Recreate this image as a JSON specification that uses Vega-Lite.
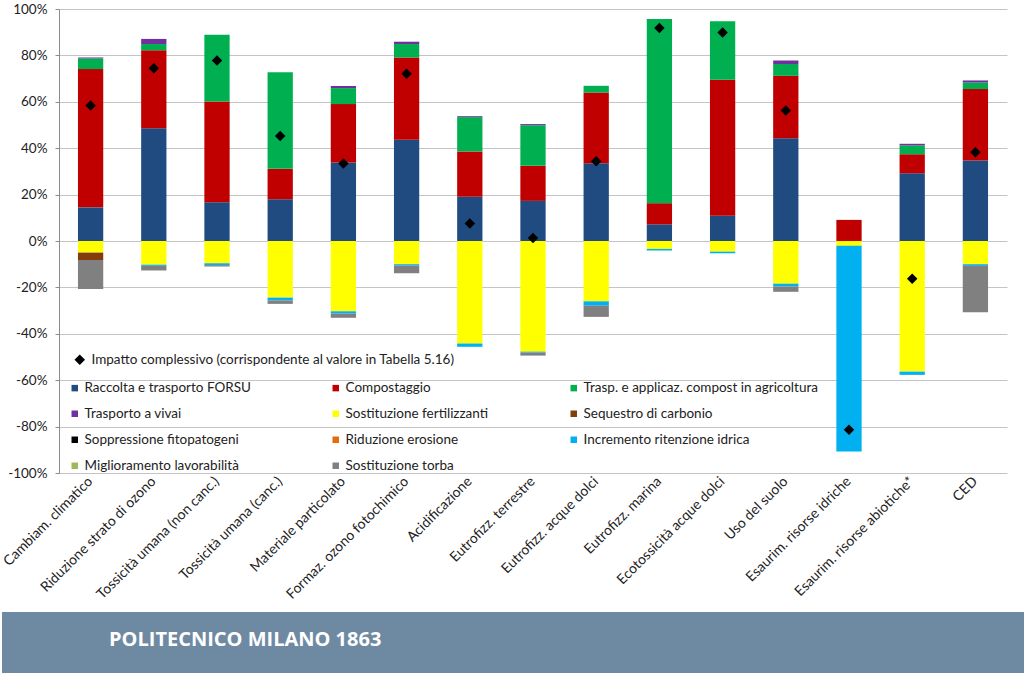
{
  "$schema": "https://vega.github.io/schema/vega-lite/v6.json",
  "padding": {"left": 0, "right": 0, "top": 2, "bottom": 0},
  "background": "white",
  "config": {"font": "Lato", "view": {"stroke": null}},
  "columns": 1,
  "align": "none",
  "spacing": 10,
  "datasets": {
    "voci": [
      {"voce": "Raccolta e trasporto FORSU", "ordine": 1},
      {"voce": "Compostaggio", "ordine": 2},
      {"voce": "Trasp. e applicaz. compost in agricoltura", "ordine": 3},
      {"voce": "Trasporto a vivai", "ordine": 4},
      {"voce": "Sostituzione fertilizzanti", "ordine": 5},
      {"voce": "Sequestro di carbonio", "ordine": 6},
      {"voce": "Soppressione fitopatogeni", "ordine": 7},
      {"voce": "Riduzione erosione", "ordine": 8},
      {"voce": "Incremento ritenzione idrica", "ordine": 9},
      {"voce": "Miglioramento lavorabilità", "ordine": 10},
      {"voce": "Sostituzione torba", "ordine": 11}
    ],
    "parti": [
      {"categoria": "Cambiam. climatico", "voce": "Raccolta e trasporto FORSU", "valore": 14.5},
      {"categoria": "Cambiam. climatico", "voce": "Compostaggio", "valore": 59.6},
      {"categoria": "Cambiam. climatico", "voce": "Trasp. e applicaz. compost in agricoltura", "valore": 4.6},
      {"categoria": "Cambiam. climatico", "voce": "Trasporto a vivai", "valore": 0.4},
      {"categoria": "Cambiam. climatico", "voce": "Sostituzione fertilizzanti", "valore": -5.0},
      {"categoria": "Cambiam. climatico", "voce": "Sequestro di carbonio", "valore": -3.2},
      {"categoria": "Cambiam. climatico", "voce": "Sostituzione torba", "valore": -12.5},

      {"categoria": "Riduzione strato di ozono", "voce": "Raccolta e trasporto FORSU", "valore": 48.6},
      {"categoria": "Riduzione strato di ozono", "voce": "Compostaggio", "valore": 33.6},
      {"categoria": "Riduzione strato di ozono", "voce": "Trasp. e applicaz. compost in agricoltura", "valore": 2.7},
      {"categoria": "Riduzione strato di ozono", "voce": "Trasporto a vivai", "valore": 2.2},
      {"categoria": "Riduzione strato di ozono", "voce": "Sostituzione fertilizzanti", "valore": -10.2},
      {"categoria": "Riduzione strato di ozono", "voce": "Incremento ritenzione idrica", "valore": -0.5},
      {"categoria": "Riduzione strato di ozono", "voce": "Sostituzione torba", "valore": -2.0},

      {"categoria": "Tossicità umana (non canc.)", "voce": "Raccolta e trasporto FORSU", "valore": 16.7},
      {"categoria": "Tossicità umana (non canc.)", "voce": "Compostaggio", "valore": 43.4},
      {"categoria": "Tossicità umana (non canc.)", "voce": "Trasp. e applicaz. compost in agricoltura", "valore": 28.8},
      {"categoria": "Tossicità umana (non canc.)", "voce": "Sostituzione fertilizzanti", "valore": -9.6},
      {"categoria": "Tossicità umana (non canc.)", "voce": "Incremento ritenzione idrica", "valore": -0.8},
      {"categoria": "Tossicità umana (non canc.)", "voce": "Sostituzione torba", "valore": -0.6},

      {"categoria": "Tossicità umana (canc.)", "voce": "Raccolta e trasporto FORSU", "valore": 18.0},
      {"categoria": "Tossicità umana (canc.)", "voce": "Compostaggio", "valore": 13.1},
      {"categoria": "Tossicità umana (canc.)", "voce": "Trasp. e applicaz. compost in agricoltura", "valore": 41.6},
      {"categoria": "Tossicità umana (canc.)", "voce": "Sostituzione fertilizzanti", "valore": -24.4},
      {"categoria": "Tossicità umana (canc.)", "voce": "Incremento ritenzione idrica", "valore": -1.2},
      {"categoria": "Tossicità umana (canc.)", "voce": "Sostituzione torba", "valore": -1.5},

      {"categoria": "Materiale particolato", "voce": "Raccolta e trasporto FORSU", "valore": 33.8},
      {"categoria": "Materiale particolato", "voce": "Compostaggio", "valore": 25.2},
      {"categoria": "Materiale particolato", "voce": "Trasp. e applicaz. compost in agricoltura", "valore": 6.9},
      {"categoria": "Materiale particolato", "voce": "Trasporto a vivai", "valore": 0.9},
      {"categoria": "Materiale particolato", "voce": "Sostituzione fertilizzanti", "valore": -30.3},
      {"categoria": "Materiale particolato", "voce": "Incremento ritenzione idrica", "valore": -1.0},
      {"categoria": "Materiale particolato", "voce": "Sostituzione torba", "valore": -1.8},

      {"categoria": "Formaz. ozono fotochimico", "voce": "Raccolta e trasporto FORSU", "valore": 43.6},
      {"categoria": "Formaz. ozono fotochimico", "voce": "Compostaggio", "valore": 35.5},
      {"categoria": "Formaz. ozono fotochimico", "voce": "Trasp. e applicaz. compost in agricoltura", "valore": 5.8},
      {"categoria": "Formaz. ozono fotochimico", "voce": "Trasporto a vivai", "valore": 1.0},
      {"categoria": "Formaz. ozono fotochimico", "voce": "Sostituzione fertilizzanti", "valore": -10.0},
      {"categoria": "Formaz. ozono fotochimico", "voce": "Incremento ritenzione idrica", "valore": -0.6},
      {"categoria": "Formaz. ozono fotochimico", "voce": "Sostituzione torba", "valore": -3.3},

      {"categoria": "Acidificazione", "voce": "Raccolta e trasporto FORSU", "valore": 19.1},
      {"categoria": "Acidificazione", "voce": "Compostaggio", "valore": 19.5},
      {"categoria": "Acidificazione", "voce": "Trasp. e applicaz. compost in agricoltura", "valore": 14.8},
      {"categoria": "Acidificazione", "voce": "Trasporto a vivai", "valore": 0.4},
      {"categoria": "Acidificazione", "voce": "Sostituzione fertilizzanti", "valore": -44.2},
      {"categoria": "Acidificazione", "voce": "Incremento ritenzione idrica", "valore": -1.4},

      {"categoria": "Eutrofizz. terrestre", "voce": "Raccolta e trasporto FORSU", "valore": 17.3},
      {"categoria": "Eutrofizz. terrestre", "voce": "Compostaggio", "valore": 15.1},
      {"categoria": "Eutrofizz. terrestre", "voce": "Trasp. e applicaz. compost in agricoltura", "valore": 17.5},
      {"categoria": "Eutrofizz. terrestre", "voce": "Trasporto a vivai", "valore": 0.5},
      {"categoria": "Eutrofizz. terrestre", "voce": "Sostituzione fertilizzanti", "valore": -47.7},
      {"categoria": "Eutrofizz. terrestre", "voce": "Incremento ritenzione idrica", "valore": -0.4},
      {"categoria": "Eutrofizz. terrestre", "voce": "Sostituzione torba", "valore": -1.3},

      {"categoria": "Eutrofizz. acque dolci", "voce": "Raccolta e trasporto FORSU", "valore": 33.5},
      {"categoria": "Eutrofizz. acque dolci", "voce": "Compostaggio", "valore": 30.5},
      {"categoria": "Eutrofizz. acque dolci", "voce": "Trasp. e applicaz. compost in agricoltura", "valore": 2.9},
      {"categoria": "Eutrofizz. acque dolci", "voce": "Sostituzione fertilizzanti", "valore": -26.0},
      {"categoria": "Eutrofizz. acque dolci", "voce": "Incremento ritenzione idrica", "valore": -1.9},
      {"categoria": "Eutrofizz. acque dolci", "voce": "Sostituzione torba", "valore": -4.8},

      {"categoria": "Eutrofizz. marina", "voce": "Raccolta e trasporto FORSU", "valore": 7.2},
      {"categoria": "Eutrofizz. marina", "voce": "Compostaggio", "valore": 9.1},
      {"categoria": "Eutrofizz. marina", "voce": "Trasp. e applicaz. compost in agricoltura", "valore": 79.4},
      {"categoria": "Eutrofizz. marina", "voce": "Sostituzione fertilizzanti", "valore": -3.4},
      {"categoria": "Eutrofizz. marina", "voce": "Incremento ritenzione idrica", "valore": -0.7},

      {"categoria": "Ecotossicità acque dolci", "voce": "Raccolta e trasporto FORSU", "valore": 10.9},
      {"categoria": "Ecotossicità acque dolci", "voce": "Compostaggio", "valore": 58.6},
      {"categoria": "Ecotossicità acque dolci", "voce": "Trasp. e applicaz. compost in agricoltura", "valore": 25.2},
      {"categoria": "Ecotossicità acque dolci", "voce": "Sostituzione fertilizzanti", "valore": -4.6},
      {"categoria": "Ecotossicità acque dolci", "voce": "Incremento ritenzione idrica", "valore": -0.7},

      {"categoria": "Uso del suolo", "voce": "Raccolta e trasporto FORSU", "valore": 44.3},
      {"categoria": "Uso del suolo", "voce": "Compostaggio", "valore": 26.9},
      {"categoria": "Uso del suolo", "voce": "Trasp. e applicaz. compost in agricoltura", "valore": 5.1},
      {"categoria": "Uso del suolo", "voce": "Trasporto a vivai", "valore": 1.5},
      {"categoria": "Uso del suolo", "voce": "Sostituzione fertilizzanti", "valore": -18.4},
      {"categoria": "Uso del suolo", "voce": "Incremento ritenzione idrica", "valore": -1.2},
      {"categoria": "Uso del suolo", "voce": "Sostituzione torba", "valore": -2.3},

      {"categoria": "Esaurim. risorse idriche", "voce": "Compostaggio", "valore": 9.1},
      {"categoria": "Esaurim. risorse idriche", "voce": "Sostituzione fertilizzanti", "valore": -2.1},
      {"categoria": "Esaurim. risorse idriche", "voce": "Incremento ritenzione idrica", "valore": -88.6},

      {"categoria": "Esaurim. risorse abiotiche*", "voce": "Raccolta e trasporto FORSU", "valore": 29.2},
      {"categoria": "Esaurim. risorse abiotiche*", "voce": "Compostaggio", "valore": 8.2},
      {"categoria": "Esaurim. risorse abiotiche*", "voce": "Trasp. e applicaz. compost in agricoltura", "valore": 3.8},
      {"categoria": "Esaurim. risorse abiotiche*", "voce": "Trasporto a vivai", "valore": 0.7},
      {"categoria": "Esaurim. risorse abiotiche*", "voce": "Sostituzione fertilizzanti", "valore": -56.3},
      {"categoria": "Esaurim. risorse abiotiche*", "voce": "Incremento ritenzione idrica", "valore": -1.4},

      {"categoria": "CED", "voce": "Raccolta e trasporto FORSU", "valore": 34.7},
      {"categoria": "CED", "voce": "Compostaggio", "valore": 30.8},
      {"categoria": "CED", "voce": "Trasp. e applicaz. compost in agricoltura", "valore": 2.8},
      {"categoria": "CED", "voce": "Trasporto a vivai", "valore": 0.9},
      {"categoria": "CED", "voce": "Sostituzione fertilizzanti", "valore": -10.0},
      {"categoria": "CED", "voce": "Incremento ritenzione idrica", "valore": -0.7},
      {"categoria": "CED", "voce": "Sostituzione torba", "valore": -20.0}
    ],
    "totali": [
      {"categoria": "Cambiam. climatico", "voce": "Impatto complessivo (corrispondente al valore in Tabella 5.16)", "valore": 58.4},
      {"categoria": "Riduzione strato di ozono", "voce": "Impatto complessivo (corrispondente al valore in Tabella 5.16)", "valore": 74.5},
      {"categoria": "Tossicità umana (non canc.)", "voce": "Impatto complessivo (corrispondente al valore in Tabella 5.16)", "valore": 77.8},
      {"categoria": "Tossicità umana (canc.)", "voce": "Impatto complessivo (corrispondente al valore in Tabella 5.16)", "valore": 45.3},
      {"categoria": "Materiale particolato", "voce": "Impatto complessivo (corrispondente al valore in Tabella 5.16)", "valore": 33.4},
      {"categoria": "Formaz. ozono fotochimico", "voce": "Impatto complessivo (corrispondente al valore in Tabella 5.16)", "valore": 72.1},
      {"categoria": "Acidificazione", "voce": "Impatto complessivo (corrispondente al valore in Tabella 5.16)", "valore": 7.5},
      {"categoria": "Eutrofizz. terrestre", "voce": "Impatto complessivo (corrispondente al valore in Tabella 5.16)", "valore": 1.3},
      {"categoria": "Eutrofizz. acque dolci", "voce": "Impatto complessivo (corrispondente al valore in Tabella 5.16)", "valore": 34.4},
      {"categoria": "Eutrofizz. marina", "voce": "Impatto complessivo (corrispondente al valore in Tabella 5.16)", "valore": 91.8},
      {"categoria": "Ecotossicità acque dolci", "voce": "Impatto complessivo (corrispondente al valore in Tabella 5.16)", "valore": 89.9},
      {"categoria": "Uso del suolo", "voce": "Impatto complessivo (corrispondente al valore in Tabella 5.16)", "valore": 56.3},
      {"categoria": "Esaurim. risorse idriche", "voce": "Impatto complessivo (corrispondente al valore in Tabella 5.16)", "valore": -81.4},
      {"categoria": "Esaurim. risorse abiotiche*", "voce": "Impatto complessivo (corrispondente al valore in Tabella 5.16)", "valore": -16.3},
      {"categoria": "CED", "voce": "Impatto complessivo (corrispondente al valore in Tabella 5.16)", "valore": 38.3}
    ]
  },
  "concat": [
    {
      "width": 1024,
      "height": 464,
      "layer": [
        {
          "data": {"name": "parti"},
          "transform": [{"lookup": "voce", "from": {"data": {"name": "voci"}, "key": "voce", "fields": ["ordine"]}}],
          "mark": {"type": "bar"},
          "encoding": {
            "x": {
              "field": "categoria", "type": "nominal",
              "sort": ["Cambiam. climatico", "Riduzione strato di ozono", "Tossicità umana (non canc.)", "Tossicità umana (canc.)", "Materiale particolato", "Formaz. ozono fotochimico", "Acidificazione", "Eutrofizz. terrestre", "Eutrofizz. acque dolci", "Eutrofizz. marina", "Ecotossicità acque dolci", "Uso del suolo", "Esaurim. risorse idriche", "Esaurim. risorse abiotiche*", "CED"],
              "scale": {"paddingInner": 0.6, "paddingOuter": 0.3, "range": [57, 1005]},
              "axis": {"title": null, "labelAngle": -45, "labelAlign": "right", "labelBaseline": "middle", "labelPadding": 6, "domain": false, "ticks": false, "grid": false, "labelFontSize": 14, "labelOverlap": false, "labelLimit": 0, "labelColor": "#222222"}
            },
            "y": {
              "field": "valore", "type": "quantitative", "stack": "zero",
              "scale": {"domain": [-100, 100], "nice": false},
              "axis": {"title": null, "offset": -57, "values": [-100, -80, -60, -40, -20, 0, 20, 40, 60, 80, 100], "labelExpr": "datum.value + '%'", "tickSize": 4, "labelPadding": 8, "domainColor": "#8c8c8c", "tickColor": "#8c8c8c", "gridColor": "#c4c4c4", "labelFontSize": 13.5, "labelColor": "#222222"}
            },
            "order": {"field": "ordine", "type": "quantitative", "sort": "ascending"},
            "color": {
              "field": "voce", "type": "nominal",
              "sort": ["Raccolta e trasporto FORSU", "Compostaggio", "Trasp. e applicaz. compost in agricoltura", "Trasporto a vivai", "Sostituzione fertilizzanti", "Sequestro di carbonio", "Soppressione fitopatogeni", "Riduzione erosione", "Incremento ritenzione idrica", "Miglioramento lavorabilità", "Sostituzione torba"],
              "scale": {
                "domain": ["Raccolta e trasporto FORSU", "Compostaggio", "Trasp. e applicaz. compost in agricoltura", "Trasporto a vivai", "Sostituzione fertilizzanti", "Sequestro di carbonio", "Soppressione fitopatogeni", "Riduzione erosione", "Incremento ritenzione idrica", "Miglioramento lavorabilità", "Sostituzione torba"],
                "range": ["#1f4b80", "#c00000", "#00b050", "#7030a0", "#ffff00", "#843c0c", "#000000", "#e46c0a", "#00b0f0", "#9bbb59", "#808080"]
              },
              "legend": {"title": null, "orient": "none", "legendX": 66, "legendY": 372, "direction": "horizontal", "columns": 3, "gridAlign": "each", "columnPadding": 78, "rowPadding": 11, "symbolType": "square", "symbolSize": 42, "symbolStrokeWidth": 0, "labelFontSize": 13.5, "labelOffset": 3, "labelColor": "#222222", "padding": 0, "labelLimit": 0}
            }
          }
        },
        {
          "data": {"name": "totali"},
          "mark": {"type": "point", "filled": true, "color": "black", "size": 110, "opacity": 1},
          "encoding": {
            "x": {"field": "categoria", "type": "nominal", "sort": ["Cambiam. climatico", "Riduzione strato di ozono", "Tossicità umana (non canc.)", "Tossicità umana (canc.)", "Materiale particolato", "Formaz. ozono fotochimico", "Acidificazione", "Eutrofizz. terrestre", "Eutrofizz. acque dolci", "Eutrofizz. marina", "Ecotossicità acque dolci", "Uso del suolo", "Esaurim. risorse idriche", "Esaurim. risorse abiotiche*", "CED"]},
            "y": {"field": "valore", "type": "quantitative"},
            "shape": {
              "field": "voce", "type": "nominal",
              "scale": {"range": ["diamond"]},
              "legend": {"title": null, "orient": "none", "legendX": 71, "legendY": 344, "symbolFillColor": "black", "symbolStrokeColor": "black", "symbolSize": 110, "labelFontSize": 13.5, "labelOffset": 5, "labelColor": "#222222", "padding": 0, "labelLimit": 0}
            }
          }
        }
      ]
    },
    {
      "width": 1024,
      "height": 62,
      "view": {"fill": "#6e8aa3", "stroke": null},
      "title": {"text": "POLITECNICO MILANO 1863", "anchor": "start", "orient": "top", "offset": -48, "dx": 107, "baseline": "middle", "color": "white", "fontSize": 20, "fontWeight": "bold", "font": "Open Sans"},
      "data": {"values": [{}]},
      "mark": {"type": "point", "opacity": 0},
      "encoding": {}
    }
  ]
}
